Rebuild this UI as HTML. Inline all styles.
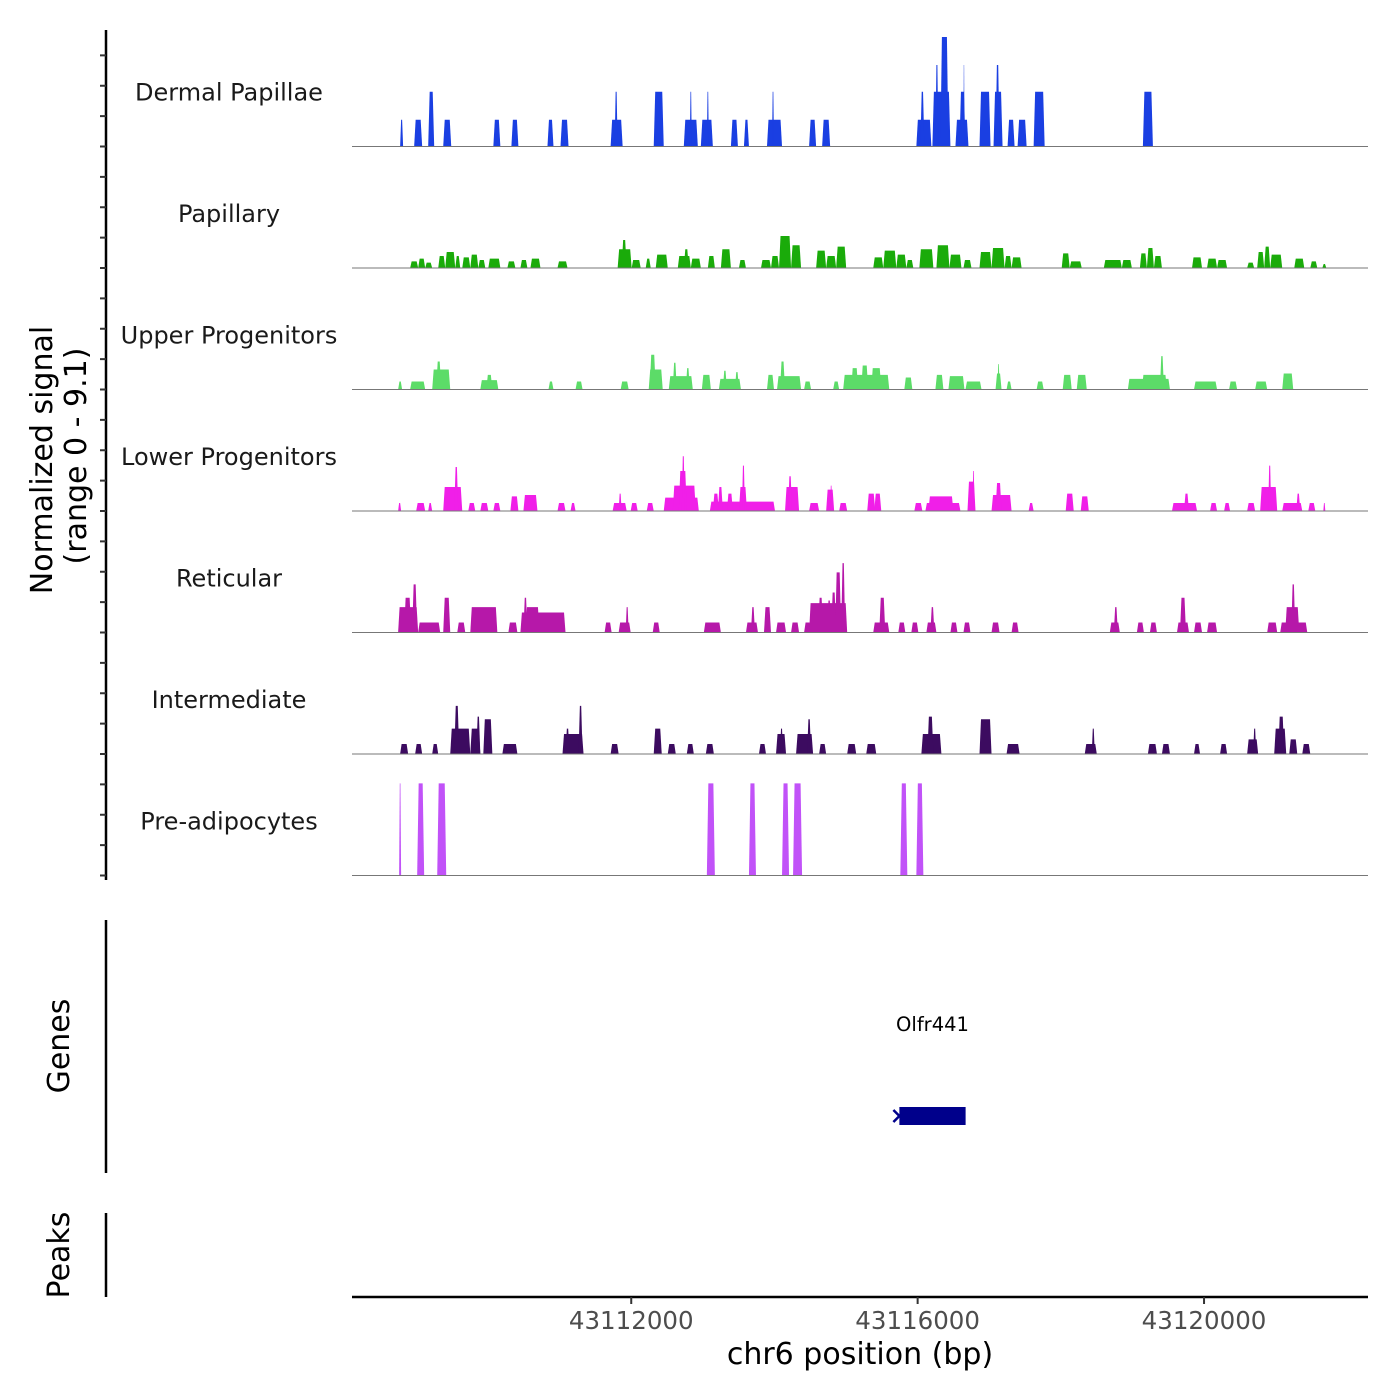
<!DOCTYPE html>
<html><head><meta charset="utf-8"><style>
body{margin:0;background:#fff}
svg{display:block;font-family:"DejaVu Sans","Liberation Sans",sans-serif}
</style></head><body>
<svg id="chart" width="1400" height="1400" viewBox="0 0 1400 1400">
<g id="tracks"></g>
<g id="axes"></g>
</svg>
<script>
const regionStart = 43108100;
const regionEnd = 43122290;
const maxSignal = 9.1;
const trackNames = ["Dermal Papillae","Papillary","Upper Progenitors","Lower Progenitors","Reticular","Intermediate","Pre-adipocytes"];
const trackColors = ["#1a3fe2","#1aab0a","#5cdc68","#f01fe8","#b618a9","#3c0b60","#c152f8"];
const xTicks = [43112000,43116000,43120000];
const xTickLabels = ["43112000","43116000","43120000"];
// segments per track: [start offset bp, end offset bp, value]
const dermalPapillae = [[672,714,2],[868,980,2],[1064,1148,4.1],[1274,1386,2],[1974,2072,2],[2226,2324,2],[2730,2814,2],[2912,3024,2],[3612,3780,2],[3668,3710,4.1],[4214,4354,4.1],[4634,4830,2],[4718,4746,4.1],[4872,5040,2],[4956,4984,4.1],[5292,5390,2],[5474,5544,2],[5796,6006,2],[5866,5894,4.1],[6384,6482,2],[6566,6678,2],[7882,8092,2],[7938,7994,4.1],[8106,8358,4.1],[8148,8190,6.1],[8218,8330,8.2],[8428,8610,2],[8484,8568,4.1],[8540,8554,6.1],[8764,8918,4.1],[8960,9086,4.1],[8988,9044,6.1],[9156,9254,2],[9296,9422,2],[9520,9674,4.1],[11046,11186,4.1]];
const papillary = [[812,924,0.5],[924,1022,0.7],[1022,1120,0.4],[1204,1302,0.9],[1302,1442,1.2],[1442,1512,0.9],[1540,1652,0.8],[1652,1764,1.0],[1764,1862,0.6],[1904,2072,0.7],[2170,2282,0.5],[2352,2450,0.6],[2492,2632,0.7],[2870,3010,0.5],[3710,3906,1.4],[3766,3836,2.1],[3906,4032,0.6],[4102,4172,0.7],[4242,4410,1.0],[4550,4732,0.9],[4634,4704,1.4],[4732,4872,0.7],[4970,5068,0.9],[5152,5292,1.4],[5404,5502,0.6],[5712,5852,0.6],[5852,5964,0.9],[5964,6132,2.4],[6132,6272,1.7],[6482,6622,1.3],[6622,6762,0.9],[6762,6902,1.6],[7280,7420,0.8],[7420,7602,1.3],[7602,7742,1.0],[7742,7840,0.6],[7924,8120,1.4],[8162,8344,1.7],[8344,8512,1.0],[8540,8652,0.6],[8764,8932,1.2],[8932,9114,1.5],[9114,9212,0.9],[9212,9352,0.8],[9912,10024,1.1],[10024,10192,0.5],[10500,10752,0.6],[10752,10892,0.6],[11004,11102,1.1],[11102,11200,1.5],[11200,11312,0.9],[11732,11872,0.8],[11942,12082,0.7],[12082,12222,0.6],[12502,12600,0.4],[12642,12740,1.2],[12740,12824,1.6],[12824,12992,1.0],[13160,13300,0.7],[13384,13482,0.5],[13552,13608,0.3]];
const upperProgenitors = [[644,700,0.6],[812,1022,0.6],[1120,1372,1.5],[1176,1246,2.1],[1792,2044,0.7],[1876,1960,1.1],[2744,2814,0.6],[3122,3220,0.6],[3752,3864,0.6],[4144,4340,1.5],[4158,4242,2.6],[4424,4760,1.0],[4480,4536,2.0],[4662,4718,1.6],[4886,5012,1.1],[5124,5432,0.8],[5180,5236,1.4],[5348,5404,1.3],[5796,5894,1.1],[5936,6272,1.0],[5978,6048,2.1],[6314,6412,0.6],[6720,6804,0.6],[6860,7504,1.1],[6972,7070,1.6],[7112,7210,1.8],[7252,7392,1.6],[7714,7826,0.9],[8148,8260,1.1],[8330,8554,1.0],[8568,8792,0.6],[8988,9072,1.2],[9016,9044,1.9],[9142,9212,0.6],[9562,9660,0.6],[9926,10052,1.1],[10122,10262,1.1],[10836,11424,0.8],[11032,11382,1.1],[11284,11340,2.5],[11760,12082,0.6],[12250,12362,0.6],[12614,12782,0.6],[12992,13146,1.2]];
const lowerProgenitors = [[644,686,0.6],[896,1022,0.6],[1064,1120,0.6],[1274,1540,1.8],[1428,1484,3.3],[1624,1722,0.6],[1792,1904,0.6],[1974,2072,0.6],[2212,2324,1.1],[2394,2590,1.2],[2870,2982,0.6],[3052,3122,0.6],[3640,3836,0.6],[3724,3766,1.3],[3892,3990,0.6],[4116,4214,0.6],[4354,4844,1.0],[4480,4802,1.9],[4564,4676,3.0],[4606,4648,4.1],[4998,5908,0.7],[5040,5124,1.3],[5110,5180,1.8],[5236,5320,1.3],[5404,5516,1.8],[5446,5488,3.4],[6048,6244,1.8],[6090,6146,2.6],[6384,6524,0.6],[6622,6734,1.6],[6678,6706,1.9],[6804,6916,0.6],[7196,7308,1.3],[7294,7392,1.3],[7854,7966,0.6],[8008,8498,0.6],[8050,8400,1.1],[8596,8708,2.2],[8666,8694,3.0],[8932,9212,1.2],[8988,9072,2.1],[9450,9520,0.6],[9968,10080,1.3],[10178,10290,1.1],[11452,11802,0.6],[11620,11690,1.3],[11984,12082,0.6],[12180,12264,0.6],[12502,12614,0.6],[12684,12922,1.8],[12796,12838,3.4],[12992,13272,0.6],[13188,13244,1.3],[13356,13454,0.6],[13566,13594,0.6]];
const reticular = [[644,924,1.9],[728,826,2.6],[840,910,3.6],[924,1232,0.75],[1274,1372,2.6],[1470,1582,0.75],[1652,2030,1.9],[2184,2310,0.75],[2352,2982,1.5],[2422,2618,1.9],[2394,2450,2.6],[3528,3626,0.75],[3724,3892,0.75],[3822,3864,1.9],[4200,4298,0.75],[4914,5152,0.75],[5502,5670,0.75],[5572,5628,1.9],[5754,5852,1.9],[5922,6062,0.75],[6132,6244,0.75],[6314,6412,0.75],[6384,6916,2.2],[6510,6580,2.6],[6636,6692,2.4],[6692,6762,3.0],[6748,6832,4.5],[6832,6888,5.2],[7280,7504,0.75],[7364,7448,2.6],[7630,7728,0.75],[7812,7910,0.75],[8022,8162,0.75],[8078,8134,1.9],[8358,8456,0.75],[8540,8638,0.75],[8932,9044,0.75],[9212,9310,0.75],[10584,10724,0.75],[10640,10696,1.9],[10962,11060,0.75],[11144,11242,0.75],[11522,11690,0.75],[11564,11648,2.6],[11760,11872,0.75],[11942,12082,0.75],[12782,12922,0.75],[12964,13342,0.75],[13034,13230,1.9],[13118,13174,3.6]];
const intermediate = [[672,784,0.75],[882,980,0.75],[1120,1204,0.75],[1372,1652,1.9],[1428,1498,3.6],[1652,1792,1.9],[1736,1792,2.8],[1834,1960,2.6],[2100,2310,0.75],[2940,3234,1.5],[2982,3038,1.9],[3164,3220,3.6],[3612,3724,0.75],[4214,4326,1.9],[4410,4522,0.75],[4676,4774,0.75],[4942,5054,0.75],[5684,5782,0.75],[5922,6062,1.5],[5978,6020,1.9],[6202,6440,1.5],[6356,6412,2.6],[6524,6622,0.75],[6916,7042,0.75],[7182,7322,0.75],[7952,8232,1.5],[8036,8120,2.8],[8764,8932,2.6],[9142,9324,0.75],[10234,10402,0.75],[10332,10374,1.9],[11116,11242,0.75],[11312,11424,0.75],[11760,11844,0.75],[12124,12222,0.75],[12502,12656,1.1],[12586,12628,1.9],[12880,13048,1.9],[12936,13020,2.8],[13090,13202,1.1],[13272,13384,0.75]];
const preAdipocytes = [[658,686,6.9],[910,1008,6.9],[1190,1316,6.9],[4956,5068,6.9],[5544,5642,6.9],[6006,6104,6.9],[6160,6286,6.9],[7658,7756,6.9],[7882,7980,6.9]];
const trackData = [dermalPapillae,papillary,upperProgenitors,lowerProgenitors,reticular,intermediate,preAdipocytes];
const geneName = "Olfr441";
const geneStart = 43115745;
const geneEnd = 43116670;

const NS = "http://www.w3.org/2000/svg";
const X0 = 352, X1 = 1368, TOP = 25, TH = 121.5;
function xs(bp){ return X0 + (bp - regionStart) / (regionEnd - regionStart) * (X1 - X0); }
function xo(off){ return xs(regionStart + off); }
function ys(v, i){ return TOP + (i+1)*TH - v / maxSignal * TH; }
function mk(tag, attrs, parent){ const e = document.createElementNS(NS, tag); for (const k in attrs) e.setAttribute(k, attrs[k]); parent.appendChild(e); return e; }

const tracks = document.getElementById('tracks');
const axes = document.getElementById('axes');
trackData.forEach((segs, i) => {
  const g = mk('g', {}, tracks);
  
  
  const base = ys(0, i);
  segs.forEach(s => {
    const a = xo(s[0]), b = xo(s[1]), t = ys(s[2], i);
    const sl = Math.min(1.5, (b - a) / 3);
    const p = mk('polygon', {points: `${a},${base} ${a+sl},${t} ${b-sl},${t} ${b},${base}`, fill: trackColors[i]}, g);
    
    
  });
  const bl = mk('line', {x1: X0, x2: X1, y1: base, y2: base, stroke: '#777', 'stroke-width': 1}, g);
  
  
  const lb = mk('text', {x: 229, y: base - 46, 'text-anchor': 'middle', 'font-size': 24, fill: '#1a1a1a'}, g);
  lb.textContent = trackNames[i];
  
  
});

// left signal axis
mk('line', {x1:106, x2:106, y1:30, y2:880, stroke:'#000', 'stroke-width':2.5}, axes);
for (let y = TOP + 7*TH; y > 30; y -= TH/4) {
  mk('line', {x1:100, x2:106, y1:y, y2:y, stroke:'#333', 'stroke-width':2}, axes);
}
const yt = mk('text', {transform:'translate(52,460) rotate(-90)', 'text-anchor':'middle', 'font-size':30, fill:'#000'}, axes);
yt.textContent = 'Normalized signal';


const yt2 = mk('text', {transform:'translate(86,456) rotate(-90)', 'text-anchor':'middle', 'font-size':30, fill:'#000'}, axes);
yt2.textContent = '(range 0 - 9.1)';



// genes panel
mk('line', {x1:106, x2:106, y1:920, y2:1173, stroke:'#000', 'stroke-width':2.5}, axes);
const gt = mk('text', {transform:'translate(69,1046) rotate(-90)', 'text-anchor':'middle', 'font-size':30, fill:'#000'}, axes);
gt.textContent = 'Genes';


const gb = mk('rect', {x: xs(geneStart), y:1107, width: xs(geneEnd)-xs(geneStart), height:18, fill:'#00008b'}, axes);


mk('path', {d:`M${xs(geneStart)-6},1110 L${xs(geneStart)},1116 L${xs(geneStart)-6},1122`, stroke:'#00008b', 'stroke-width':2.5, fill:'none'}, axes);
const gl = mk('text', {x:(xs(geneStart)+xs(geneEnd))/2, y:1031, 'text-anchor':'middle', 'font-size':19.5, fill:'#000'}, axes);
gl.textContent = geneName;



// peaks panel
mk('line', {x1:106, x2:106, y1:1213, y2:1297, stroke:'#000', 'stroke-width':2.5}, axes);
const pt = mk('text', {transform:'translate(69,1255) rotate(-90)', 'text-anchor':'middle', 'font-size':30, fill:'#000'}, axes);
pt.textContent = 'Peaks';



// x axis
mk('line', {x1:X0, x2:X1, y1:1297, y2:1297, stroke:'#000', 'stroke-width':2.5}, axes);
xTicks.forEach((t, k) => {
  const x = xs(t);
  mk('line', {x1:x, x2:x, y1:1297, y2:1304, stroke:'#333', 'stroke-width':2}, axes);
  const tl = mk('text', {x:x, y:1329, 'text-anchor':'middle', 'font-size':24.5, fill:'#4d4d4d'}, axes);
  tl.textContent = xTickLabels[k];
  
  
});
const xt = mk('text', {x:860, y:1364, 'text-anchor':'middle', 'font-size':30, fill:'#000'}, axes);
xt.textContent = 'chr6 position (bp)';


</script>
</body></html>
